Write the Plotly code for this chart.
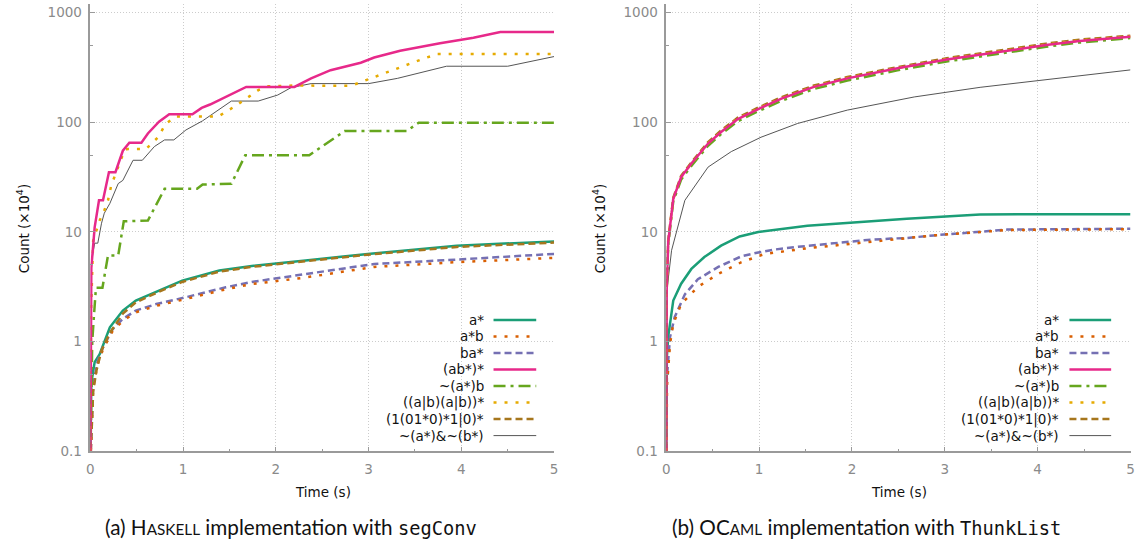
import plotly.graph_objects as go

# ---------------- data: Haskell implementation (left) ----------------
hs_a_t = [0, 0.005, 0.01, 0.046, 0.10, 0.21, 0.35, 0.49, 0.74, 0.99, 1.39, 1.74, 2.32, 2.99, 3.95, 5.0]
hs_a_v = [0.08, 0.2, 0.42, 0.65, 0.77, 1.35, 1.92, 2.37, 2.93, 3.6, 4.45, 4.9, 5.5, 6.3, 7.5, 8.2]

hs_ab_t = [0, 0.01, 0.03, 0.08, 0.136, 0.24, 0.35, 0.49, 0.71, 1.03, 1.46, 1.74, 2.28, 3.06, 3.95, 5.0]
hs_ab_v = [0.08, 0.13, 0.38, 0.63, 0.85, 1.25, 1.55, 1.85, 2.12, 2.45, 3.0, 3.35, 3.8, 4.8, 5.3, 5.8]

hs_ba_t = [0, 0.01, 0.03, 0.08, 0.136, 0.24, 0.35, 0.49, 0.71, 1.03, 1.46, 1.74, 2.28, 3.06, 3.95, 5.0]
hs_ba_v = [0.08, 0.15, 0.41, 0.67, 0.89, 1.3, 1.61, 1.92, 2.2, 2.54, 3.13, 3.5, 4.1, 5.1, 5.6, 6.3]

hs_abs_t = [0, 0.005, 0.01, 0.046, 0.093, 0.136, 0.2, 0.27, 0.35, 0.42, 0.55, 0.62, 0.74, 0.85, 1.10,
            1.2, 1.29, 1.68, 2.2, 2.38, 2.59, 2.915, 3.06, 3.34, 3.59, 3.77, 4.13, 4.42, 5.0]
hs_abs_v = [0.08, 1.5, 4.7, 11, 19.4, 19.4, 35, 35, 55, 65, 65, 79, 101, 118, 118,
            135, 145, 210, 210, 251, 298, 349, 389, 448, 494, 524, 590, 664, 664]

hs_nab_t = [0, 0.01, 0.02, 0.04, 0.06, 0.13, 0.19, 0.30, 0.36, 0.62, 0.80, 1.15, 1.21, 1.52,
            1.67, 2.36, 2.74, 3.41, 3.54, 5.0]
hs_nab_v = [0.08, 0.5, 1.0, 1.8, 3.1, 3.1, 6.1, 6.1, 12.5, 12.7, 24.7, 24.7, 27, 27.5,
            50, 50, 83, 83, 99, 99]

hs_pair_t = [0, 0.008, 0.03, 0.1, 0.15, 0.19, 0.225, 0.28, 0.37, 0.40, 0.6, 0.73, 0.81, 0.92,
             1.38, 1.56, 1.81, 1.92, 2.2, 2.81, 3.02, 3.34, 3.6, 3.74, 5.0]
hs_pair_v = [0.08, 2, 8.3, 12.7, 15.7, 19.4, 26.6, 35, 56, 57, 57, 73, 96, 113,
             113, 140, 196, 213, 216, 215, 251, 320, 382, 418, 418]

hs_div_t = [0, 0.015, 0.03, 0.064, 0.12, 0.21, 0.35, 0.49, 0.74, 0.99, 1.39, 1.74, 2.32, 2.99, 3.95, 5.0]
hs_div_v = [0.08, 0.2, 0.35, 0.54, 0.83, 1.2, 1.8, 2.28, 2.85, 3.5, 4.35, 4.8, 5.4, 6.2, 7.3, 8.0]

hs_and_t = [0, 0.005, 0.01, 0.046, 0.08, 0.12, 0.15, 0.21, 0.24, 0.30, 0.35, 0.46, 0.56, 0.69,
            0.80, 0.90, 1.03, 1.21, 1.52, 1.81, 2.02, 2.165, 2.38, 3.0, 3.31, 3.84, 4.5, 5.0]
hs_and_v = [0.08, 2, 5.2, 7.9, 7.9, 12, 14.8, 18.2, 20.9, 27.6, 29.5, 45, 45, 60,
            69, 69, 85, 103, 156, 156, 177, 207, 225, 225, 251, 324, 324, 397]

# ---------------- data: OCaml implementation (right) ----------------
ml_a_t = [0, 0.003, 0.006, 0.02, 0.075, 0.16, 0.27, 0.41, 0.59, 0.79, 0.99, 1.52, 2.06, 2.59, 3.38, 3.81, 5.0]
ml_a_v = [0.08, 0.3, 0.72, 1.1, 2.37, 3.37, 4.6, 5.9, 7.5, 9.1, 10, 11.4, 12.3, 13.2, 14.4, 14.5, 14.5]

ml_ab_t = [0, 0.003, 0.008, 0.04, 0.075, 0.16, 0.34, 0.56, 0.81, 1.06, 1.52, 2.06, 2.59, 2.88, 3.67, 5.0]
ml_ab_v = [0.08, 0.2, 0.4, 0.95, 1.45, 2.2, 3.15, 4.15, 5.3, 6.3, 7.1, 7.9, 8.7, 9.3, 10.4, 10.6]

ml_ba_t = [0, 0.003, 0.006, 0.04, 0.09, 0.2, 0.34, 0.56, 0.81, 0.99, 1.16, 1.41, 1.63, 1.88, 2.13, 2.42, 2.59, 2.88, 3.67, 5.0]
ml_ba_v = [0.08, 0.25, 0.47, 1.1, 1.67, 2.7, 3.7, 4.8, 6.0, 6.5, 6.9, 7.3, 7.6, 7.9, 8.4, 8.7, 8.8, 9.3, 10.5, 10.7]

ml_top_t = [0, 0.004, 0.02, 0.075, 0.16, 0.27, 0.45, 0.59, 0.77, 0.99, 1.24, 1.59, 1.95, 2.49, 3.02, 3.56, 4.09, 4.45, 5.0]
ml_abs_v = [0.08, 3, 8, 20, 31.6, 42, 64, 81.5, 107, 132, 164, 210, 251, 310, 373, 438, 505, 550, 600]
ml_nab_v = [0.08, 2.8, 7.5, 19, 30, 40, 61, 78, 102, 126, 157, 201, 240, 297, 358, 421, 488, 532, 585]
ml_pair_v = [0.08, 3, 8, 20, 31.6, 42, 64, 82, 108, 133, 165, 211, 253, 312, 376, 442, 510, 556, 606]
ml_div_v = [0.08, 3.1, 8.3, 20.5, 32.5, 43, 66, 84, 110, 136, 169, 216, 258, 318, 383, 450, 520, 566, 615]

ml_and_t = [0, 0.002, 0.006, 0.057, 0.2, 0.45, 0.70, 1.02, 1.415, 1.95, 2.67, 3.38, 4.09, 5.0]
ml_and_v = [0.08, 0.5, 2.9, 6.8, 19.4, 39, 54, 73, 97.5, 129, 170, 208, 245, 300]

# ---------------- labels / tick labels ----------------
series_names = ["a*", "a*b", "ba*", "(ab*)*", "~(a*)b", "((a|b)(a|b))*", "(1(01*0)*1|0)*", "~(a*)&~(b*)"]
x_ticks = [0, 1, 2, 3, 4, 5]
y_ticks = [0.1, 1, 10, 100, 1000]
y_ticktext = ["0.1", "1", "10", "100", "1000"]
y_minor = [0.5, 5, 50, 500]

# ---------------- styles ----------------
colors = ["#1b9e77", "#d95f02", "#7570b3", "#e7298a", "#66a61e", "#e6ab02", "#a6761d", "#555555"]
dashes = ["solid", "3px,8px", "7px,4px", "solid", "12px,5px,3px,5px", "3px,8px", "7px,4px", "solid"]
widths = [2.5, 2.5, 2.5, 2.5, 2.5, 2.5, 2.5, 1.0]

left_data = [(hs_a_t, hs_a_v), (hs_ab_t, hs_ab_v), (hs_ba_t, hs_ba_v), (hs_abs_t, hs_abs_v),
             (hs_nab_t, hs_nab_v), (hs_pair_t, hs_pair_v), (hs_div_t, hs_div_v), (hs_and_t, hs_and_v)]
right_data = [(ml_a_t, ml_a_v), (ml_ab_t, ml_ab_v), (ml_ba_t, ml_ba_v), (ml_top_t, ml_abs_v),
              (ml_top_t, ml_nab_v), (ml_top_t, ml_pair_v), (ml_top_t, ml_div_v), (ml_and_t, ml_and_v)]

FONT = "DejaVu Sans"
W, H = 1135, 546          # reference frame (layout positions are fractions of it)
FIG_H = 555               # page height actually captured

fig = go.Figure()
order = [7, 0, 2, 1, 6, 4, 5, 3]
for axes, data in (("", left_data), ("2", right_data)):
    for i in order:
        t, v = data[i]
        fig.add_trace(go.Scatter(
            x=t, y=v, mode="lines", name=series_names[i], showlegend=False,
            line=dict(color=colors[i], width=widths[i], dash=dashes[i]),
            xaxis="x" + axes, yaxis="y" + axes, hoverinfo="skip"))

def px_x(p):
    return p / W

def px_y(p):
    return (H - p) / H

ydom = [px_y(450.5), px_y(4.3)]
GRID = dict(showgrid=True, gridcolor="#cccccc", griddash="1px,2px", gridwidth=1)
xcommon = dict(range=[0, 5], tickmode="array", tickvals=x_ticks, ticks="inside", ticklen=5,
               tickcolor="#9a9a9a", tickwidth=1, showline=True, linecolor="#9a9a9a", linewidth=1.5,
               zeroline=False, ticklabelstandoff=5,
               tickfont=dict(family=FONT, size=13.5, color="#8a8a8a"),
               minor=dict(tickmode="linear", tick0=0.5, dtick=1, ticks="inside", ticklen=3,
                          tickcolor="#9a9a9a", showgrid=False), **GRID)
ycommon = dict(type="log", range=[-1, 3.075], tickmode="array", tickvals=y_ticks, ticktext=y_ticktext,
               ticks="inside", ticklen=5, tickcolor="#9a9a9a", tickwidth=1, showline=True,
               linecolor="#9a9a9a", linewidth=1.5, zeroline=False, ticklabelstandoff=4,
               tickfont=dict(family=FONT, size=13.5, color="#8a8a8a"),
               minor=dict(tickmode="array", tickvals=y_minor, ticks="inside", ticklen=3,
                          tickcolor="#9a9a9a", showgrid=False), **GRID)

fig.update_layout(
    width=W, height=FIG_H, margin=dict(l=0, r=0, t=0, b=0),
    paper_bgcolor="white", plot_bgcolor="white",
    xaxis=dict(domain=[px_x(87), px_x(554)], anchor="y", **xcommon),
    yaxis=dict(domain=ydom, anchor="x", **ycommon),
    xaxis2=dict(domain=[px_x(667), px_x(1134.5)], anchor="y2", **xcommon),
    yaxis2=dict(domain=ydom, anchor="x2", **ycommon),
)

annotations = []
shapes = []
tfont = dict(family=FONT, size=13.5, color="#111111")
for (xl, xc) in ((20, 321), (600, 901)):
    annotations.append(dict(text="Count (×10<sup>4</sup>)", x=px_x(xl), y=px_y(228), xref="paper", yref="paper",
                            textangle=-90, showarrow=False, font=tfont, xanchor="center", yanchor="middle"))
    annotations.append(dict(text="Time (s)", x=px_x(xc), y=px_y(491), xref="paper", yref="paper",
                            showarrow=False, font=tfont, xanchor="center", yanchor="middle"))

# legends (text right-aligned, sample to the right)
for (text_r, s0, s1, box_l, box_r) in ((485, 493, 536, 360, 552), (1065, 1073, 1115, 940, 1132)):
    shapes.append(dict(type="rect", xref="paper", yref="paper", x0=px_x(box_l), x1=px_x(box_r),
                       y0=px_y(447), y1=px_y(308), fillcolor="white", line=dict(width=0), layer="between"))
    for k, name in enumerate(series_names):
        yy = 319.3 + 16.5 * k
        annotations.append(dict(text=name, x=px_x(text_r), y=px_y(yy), xref="paper", yref="paper",
                                showarrow=False, xanchor="right", yanchor="middle", font=tfont))
        shapes.append(dict(type="line", xref="paper", yref="paper", x0=px_x(s0), x1=px_x(s1),
                           y0=px_y(yy), y1=px_y(yy),
                           line=dict(color=colors[k], width=widths[k], dash=dashes[k])))

cap_font = dict(family="Lato", size=20.7, color="#111111")
annotations.append(dict(
    text="(a) H<span style='font-size:15.3px'>ASKELL</span> implementation with "
         "<span style='font-family:DejaVu Sans Mono;font-size:18.7px'>segConv</span>",
    x=px_x(289), y=px_y(526), xref="paper", yref="paper", showarrow=False,
    xanchor="center", yanchor="middle", font=cap_font))
annotations.append(dict(
    text="(b) OC<span style='font-size:15.3px'>AML</span> implementation with "
         "<span style='font-family:DejaVu Sans Mono;font-size:18.7px'>ThunkList</span>",
    x=px_x(869), y=px_y(526), xref="paper", yref="paper", showarrow=False,
    xanchor="center", yanchor="middle", font=cap_font))

fig.update_layout(annotations=annotations, shapes=shapes)
fig.write_html("out.html", config={"displayModeBar": False},
               post_script="document.body.style.margin='0px';document.body.style.overflow='hidden';")
